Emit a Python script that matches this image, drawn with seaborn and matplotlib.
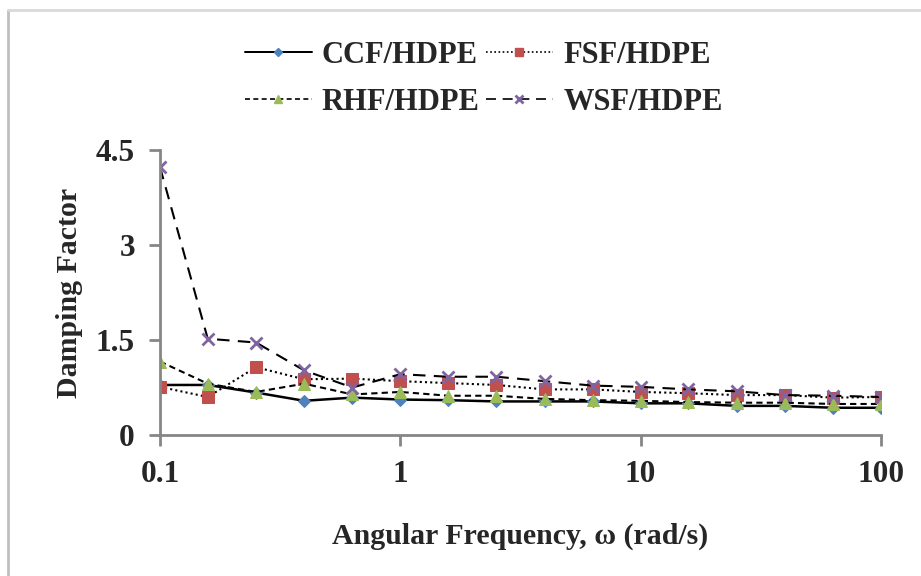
import numpy as np
import pandas as pd
import matplotlib
matplotlib.use("Agg")
import matplotlib.pyplot as plt
import seaborn as sns
from matplotlib.lines import Line2D

freq = [0.1, 0.158, 0.251, 0.398, 0.631, 1.0, 1.58, 2.51, 3.98, 6.31,
        10.0, 15.8, 25.1, 39.8, 63.1, 100.0]
ccf = [0.79, 0.79, 0.67, 0.54, 0.59, 0.56, 0.55, 0.53, 0.53, 0.53,
       0.50, 0.50, 0.46, 0.46, 0.43, 0.43]
fsf = [0.76, 0.60, 1.07, 0.88, 0.89, 0.85, 0.82, 0.79, 0.72, 0.72,
       0.68, 0.66, 0.63, 0.63, 0.59, 0.60]
rhf = [1.16, 0.81, 0.68, 0.81, 0.64, 0.68, 0.62, 0.62, 0.57, 0.55,
       0.54, 0.52, 0.51, 0.51, 0.49, 0.49]
wsf = [4.23, 1.52, 1.46, 1.02, 0.75, 0.96, 0.92, 0.92, 0.85, 0.78,
       0.76, 0.72, 0.69, 0.63, 0.62, 0.60]
series_names = ["CCF/HDPE", "FSF/HDPE", "RHF/HDPE", "WSF/HDPE"]
yticks = [0, 1.5, 3, 4.5]
ytick_labels = ["0", "1.5", "3", "4.5"]
xticks = [0.1, 1, 10, 100]
xtick_labels = ["0.1", "1", "10", "100"]

sns.set_theme(style="white")
plt.rcParams["font.family"] = ["Liberation Serif", "DejaVu Serif"]
plt.rcParams["font.weight"] = "bold"

fig = plt.figure(figsize=(9.21, 5.76), dpi=100)
ax = fig.add_axes([160/921, 1-435/576, (881-160)/921, (435-150)/576])

styles = [
    dict(color="black", linestyle="-", lw=1.8, marker="D", ms=6, mfc="#4F81BD", mec="#4F81BD"),
    dict(color="black", linestyle=(0, (1, 1.5)), lw=1.5, marker="s", ms=8.5, mfc="#C0504D", mec="#C0504D"),
    dict(color="black", linestyle=(0, (3, 2)), lw=1.5, marker="^", ms=8.5, mfc="#9BBB59", mec="#9BBB59"),
    dict(color="black", linestyle=(0, (6, 4)), lw=1.5, marker="x", ms=8, mfc="#8064A2", mec="#8064A2", mew=2),
]
data = [ccf, fsf, rhf, wsf]
handles = []
for name, vals, st in zip(series_names, data, styles):
    df = pd.DataFrame({"freq": freq, "val": vals})
    st2 = dict(st)
    color = st2.pop("color")
    ls = st2.pop("linestyle")
    lw = st2.pop("lw")
    sns.lineplot(data=df, x="freq", y="val", ax=ax, color=color, linestyle=ls,
                 linewidth=lw, legend=False, **st2)
    h = Line2D([], [], color=color, linestyle=ls, linewidth=lw * 0.8,
               marker=st["marker"], markersize=st["ms"] * 0.75,
               markerfacecolor=st["mfc"], markeredgecolor=st["mec"],
               markeredgewidth=st.get("mew", 1))
    handles.append(h)

ax.set_xscale("log")
ax.set_xlim(0.1, 100)
ax.set_ylim(0, 4.5)
ax.set_xticks(xticks)
ax.set_xticklabels(xtick_labels)
ax.xaxis.set_minor_locator(matplotlib.ticker.NullLocator())
ax.set_yticks(yticks)
ax.set_yticklabels(ytick_labels)

for s in ["top", "right"]:
    ax.spines[s].set_visible(False)
for s in ["left", "bottom"]:
    ax.spines[s].set_color("#868686")
    ax.spines[s].set_linewidth(2)
ax.tick_params(axis="both", which="major", direction="out", length=8, width=2,
               color="#868686", labelsize=22.5, left=True, bottom=True)
ax.tick_params(axis="x", pad=10)
ax.tick_params(axis="y", pad=10)
for lab in ax.get_xticklabels() + ax.get_yticklabels():
    lab.set_fontweight("bold")

ax.set_xlabel("Angular Frequency, ω (rad/s)", fontsize=21.5, fontweight="bold", labelpad=24)
ax.set_ylabel("Damping Factor", fontsize=21.5, fontweight="bold", labelpad=9)

order = [0, 2, 1, 3]
fig.legend([handles[i] for i in order], [series_names[i] for i in order],
           loc="upper center", bbox_to_anchor=(0.525, 0.977), ncol=2, frameon=False,
           prop=dict(family="Liberation Serif", weight="bold", size=22),
           handlelength=2.2, handletextpad=0.33, columnspacing=0.2, labelspacing=0.6)

fig.add_artist(Line2D([8/921, 8/921], [0, 1-10/576], color="#BFBFBF", lw=2, transform=fig.transFigure))
fig.add_artist(Line2D([8/921, 1], [1-10/576, 1-10/576], color="#D9D9D9", lw=2, transform=fig.transFigure))

fig.savefig("out.png", dpi=100)
